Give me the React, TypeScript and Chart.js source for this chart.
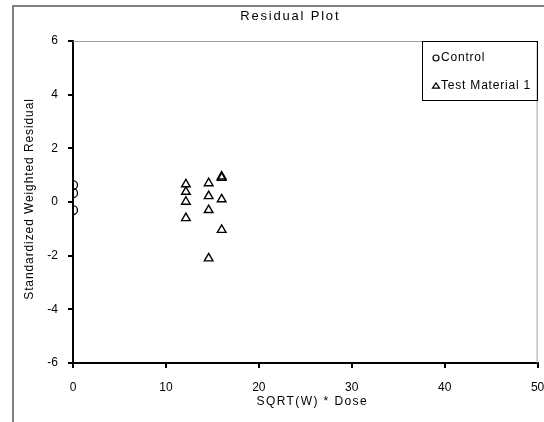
import React, { useEffect, useRef } from "react";
import { Chart, registerables } from "chart.js";

Chart.register(...registerables);

const chartTitle = "Residual Plot";
const xTitle = "SQRT(W) * Dose";
const yTitle = "Standardized Weighted Residual";
const seriesNames = ["Control", "Test Material 1"];

const controlX = [0, 0, 0];
const controlY = [0.63, 0.33, -0.3];

const testX = [12.15, 12.15, 12.15, 12.15, 14.6, 14.6, 14.6, 14.6, 16.0, 16.0, 16.0, 16.0];
const testY = [0.66, 0.38, 0.01, -0.6, 0.7, 0.22, -0.3, -2.1, 0.95, 0.9, 0.1, -1.04];

const xMin = 0, xMax = 50, xStep = 10;
const yMin = -6, yMax = 6, yStep = 2;

const FONT = "'Liberation Sans', Arial, sans-serif";

function drawMarker(ctx: CanvasRenderingContext2D, style: string, x: number, y: number, r: number) {
  ctx.beginPath();
  if (style === "circle") {
    ctx.arc(x, y, r, 0, Math.PI * 2);
  } else {
    const h = r * 1.5;
    ctx.moveTo(x, y - h * 0.6);
    ctx.lineTo(x + r, y + h * 0.4);
    ctx.lineTo(x - r, y + h * 0.4);
    ctx.closePath();
  }
  ctx.stroke();
}

const decorPlugin = {
  id: "decor",
  beforeDraw(chart: any) {
    const ctx = chart.ctx as CanvasRenderingContext2D;
    ctx.save();
    ctx.fillStyle = "#ffffff";
    ctx.fillRect(0, 0, chart.width, chart.height);
    ctx.strokeStyle = "#7f7f7f";
    ctx.lineWidth = 2;
    ctx.strokeRect(13, 6, 700, 600);
    ctx.restore();
  },
  afterDraw(chart: any) {
    const ctx = chart.ctx as CanvasRenderingContext2D;
    const a = chart.chartArea;
    ctx.save();
    // plot area top/right border
    ctx.strokeStyle = "#a0a0a0";
    ctx.lineWidth = 1;
    ctx.beginPath();
    ctx.moveTo(a.left, a.top + 0.5);
    ctx.lineTo(a.right - 0.5, a.top + 0.5);
    ctx.lineTo(a.right - 0.5, a.bottom);
    ctx.stroke();

    // titles
    ctx.fillStyle = "#000";
    ctx.textAlign = "center";
    ctx.textBaseline = "middle";
    (ctx as any).letterSpacing = "1.8px";
    ctx.font = `13px ${FONT}`;
    ctx.fillText(chartTitle, (a.left + a.right) / 2 - 15, 16);
    (ctx as any).letterSpacing = "1.4px";
    ctx.font = `12px ${FONT}`;
    ctx.fillText(xTitle, (a.left + a.right) / 2 + 7, 402);
    (ctx as any).letterSpacing = "0.9px";
    ctx.save();
    ctx.translate(30, (a.top + a.bottom) / 2 - 3);
    ctx.rotate(-Math.PI / 2);
    ctx.fillText(yTitle, 0, 0);
    ctx.restore();

    // legend
    ctx.strokeStyle = "#000";
    ctx.lineWidth = 1;
    ctx.strokeRect(422.5, 41.5, 115, 59);
    ctx.textAlign = "left";
    ctx.font = `12px ${FONT}`;
    (ctx as any).letterSpacing = "0.8px";
    ctx.lineWidth = 1.2;
    drawMarker(ctx, "circle", 436, 58, 3);
    ctx.fillText(seriesNames[0], 441, 58);
    drawMarker(ctx, "triangle", 436, 86, 3.5);
    ctx.fillText(seriesNames[1], 441, 86);
    ctx.restore();
  },
};

export default function App() {
  const ref = useRef<HTMLCanvasElement>(null);
  useEffect(() => {
    if (!ref.current) return;
    const chart = new Chart(ref.current, {
      type: "scatter",
      data: {
        datasets: [
          {
            label: seriesNames[0],
            data: controlX.map((x, i) => ({ x, y: controlY[i] })),
            pointStyle: "circle",
            pointRadius: 4.5,
            borderColor: "#000",
            backgroundColor: "rgba(0,0,0,0)",
            borderWidth: 1.3,
          },
          {
            label: seriesNames[1],
            data: testX.map((x, i) => ({ x, y: testY[i] })),
            pointStyle: "triangle",
            pointRadius: 5,
            borderColor: "#000",
            backgroundColor: "rgba(0,0,0,0)",
            borderWidth: 1.4,
          },
        ],
      },
      options: {
        responsive: false,
        animation: false,
        devicePixelRatio: 1,
        layout: { padding: { top: 41, right: 3, left: 0, bottom: 0 } },
        plugins: { legend: { display: false }, title: { display: false }, tooltip: { enabled: false } },
        scales: {
          x: {
            type: "linear",
            min: xMin,
            max: xMax,
            afterFit: (s: any) => { s.height = 59; s.paddingLeft = 0; s.paddingRight = 0; },
            ticks: { stepSize: xStep, color: "#000", font: { size: 12, family: FONT }, padding: 12, maxRotation: 0 },
            grid: { drawOnChartArea: false, tickLength: 5, color: "#000", lineWidth: 2 },
            border: { color: "#000", width: 2 },
          },
          y: {
            type: "linear",
            min: yMin,
            max: yMax,
            afterFit: (s: any) => { s.width = 73; s.paddingTop = 0; s.paddingBottom = 0; },
            ticks: { stepSize: yStep, color: "#000", font: { size: 12, family: FONT }, padding: 10 },
            grid: { drawOnChartArea: false, tickLength: 5, color: "#000", lineWidth: 2 },
            border: { color: "#000", width: 2 },
          },
        },
      },
      plugins: [decorPlugin],
    });
    return () => chart.destroy();
  }, []);
  return (
    <div style={{ position: "fixed", left: 0, top: 0, width: 544, height: 422 }}>
      <canvas ref={ref} width={544} height={422} style={{ width: 544, height: 422 }} />
    </div>
  );
}
